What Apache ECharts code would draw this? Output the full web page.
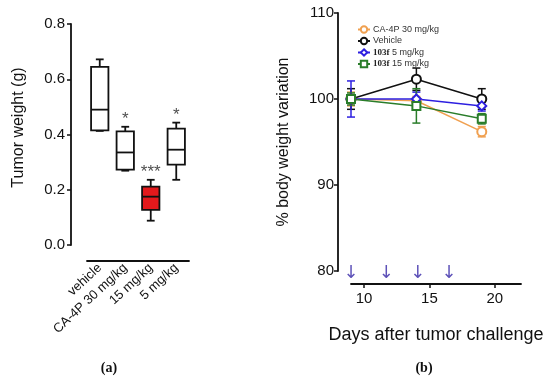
<!DOCTYPE html>
<html><head><meta charset="utf-8">
<script src="https://cdn.jsdelivr.net/npm/echarts@6/dist/echarts.min.js"></script>
<style>html,body{margin:0;padding:0;background:#fff}#c{width:550px;height:378px}</style>
</head><body><div id="c"></div>
<script>
// ---- Panel (a): tumor weight box plots ----
var groups = ['vehicle', 'CA-4P 30 mg/kg', '15 mg/kg', '5 mg/kg'];
// [min, Q1, median, Q3, max]
var boxVehicle = [0.413, 0.415, 0.49, 0.645, 0.672];
var boxCA4P = [0.269, 0.273, 0.335, 0.411, 0.428];
var box15 = [0.088, 0.127, 0.175, 0.211, 0.236];
var box5 = [0.236, 0.291, 0.345, 0.421, 0.443];
var significance = ['', '*', '***', '*'];
var weightTicks = [0, 0.2, 0.4, 0.6, 0.8];

// ---- Panel (b): body weight variation ----
var days = [9, 14, 19];
var ca4pMean = [100, 99.8, 96.2];
var ca4pErr = [0.8, 0.5, 0.6];
var vehicleMean = [100, 102.3, 100];
var vehicleErr = [1.2, 1.3, 1.2];
var f5Mean = [100, 100, 99.2];
var f5Err = [2.1, 0.8, 0.6];
var f15Mean = [100, 99.2, 97.7];
var f15Err = [0.7, 2.0, 0.6];
var treatmentDays = [9, 11.7, 14.1, 16.5];
var dayTicks = [10, 15, 20];

var boxes = [boxVehicle, boxCA4P, box15, box5];
var boxFill = ['#ffffff', '#ffffff', '#e3191c', '#ffffff'];

var chart = echarts.init(document.getElementById('c'), null, {renderer: 'canvas'});

function boxRender(params, api) {
  var i = api.value(0);
  var b = boxes[i];
  var bw = api.size([1, 0])[0] * 0.68;
  var cw = bw * 0.45;
  var x = api.coord([i, 0])[0];
  var p = b.map(function (v) { return api.coord([i, v])[1]; });
  var st = {stroke: '#111', lineWidth: 1.8, fill: null};
  return {
    type: 'group',
    children: [
      {type: 'line', shape: {x1: x, y1: p[0], x2: x, y2: p[1]}, style: st},
      {type: 'line', shape: {x1: x, y1: p[3], x2: x, y2: p[4]}, style: st},
      {type: 'line', shape: {x1: x - cw / 2, y1: p[0], x2: x + cw / 2, y2: p[0]}, style: st},
      {type: 'line', shape: {x1: x - cw / 2, y1: p[4], x2: x + cw / 2, y2: p[4]}, style: st},
      {type: 'rect', shape: {x: x - bw / 2, y: p[3], width: bw, height: p[1] - p[3]},
        style: {stroke: '#111', lineWidth: 1.8, fill: boxFill[i]}},
      {type: 'line', shape: {x1: x - bw / 2, y1: p[2], x2: x + bw / 2, y2: p[2]}, style: st}
    ]
  };
}

function errRender(meanArr, errArr, color) {
  return function (params, api) {
    var i = params.dataIndex;
    var x = api.coord([days[i], meanArr[i]])[0];
    var yt = api.coord([days[i], meanArr[i] + errArr[i]])[1];
    var yb = api.coord([days[i], meanArr[i] - errArr[i]])[1];
    var st = {stroke: color, lineWidth: 1.5};
    var c = 4;
    return {type: 'group', children: [
      {type: 'line', shape: {x1: x, y1: yt, x2: x, y2: yb}, style: st},
      {type: 'line', shape: {x1: x - c, y1: yt, x2: x + c, y2: yt}, style: st},
      {type: 'line', shape: {x1: x - c, y1: yb, x2: x + c, y2: yb}, style: st}
    ]};
  };
}

var cols = {ca: '#f0a050', veh: '#111111', f5: '#2d1fe0', f15: '#2a7d2a'};
var seriesDefs = [
  {name: 'CA-4P 30 mg/kg', mean: ca4pMean, err: ca4pErr, color: cols.ca, symbol: 'emptyCircle'},
  {name: 'Vehicle', mean: vehicleMean, err: vehicleErr, color: cols.veh, symbol: 'emptyCircle'},
  {name: '103f 5 mg/kg', mean: f5Mean, err: f5Err, color: cols.f5, symbol: 'emptyDiamond'},
  {name: '103f 15 mg/kg', mean: f15Mean, err: f15Err, color: cols.f15, symbol: 'emptyRect'}
];

var series = [
  {type: 'custom', xAxisIndex: 0, yAxisIndex: 0, renderItem: boxRender,
    data: groups.map(function (g, i) { return [i, boxes[i][4]]; }), z: 5},
  {type: 'scatter', xAxisIndex: 0, yAxisIndex: 0, symbolSize: 0, silent: true,
    data: groups.map(function (g, i) { return [i, boxes[i][4]]; }),
    label: {show: true, position: 'top', distance: -1, fontSize: 17, color: '#222',
      fontFamily: 'Liberation Sans',
      formatter: function (p) { return significance[p.dataIndex]; }}}
];
seriesDefs.forEach(function (d) {
  series.push({type: 'custom', xAxisIndex: 1, yAxisIndex: 1, renderItem: errRender(d.mean, d.err, d.color),
    data: days.map(function (x, i) { return [x, d.mean[i]]; }), silent: true, z: 3});
});
seriesDefs.forEach(function (d) {
  series.push({type: 'line', name: d.name, xAxisIndex: 1, yAxisIndex: 1,
    data: days.map(function (x, i) { return [x, d.mean[i]]; }),
    symbol: d.symbol, symbolSize: d.symbol === 'emptyRect' ? 8 : 9, showAllSymbol: true,
    lineStyle: {color: d.color, width: 1.5}, itemStyle: {color: d.color, borderWidth: 1.8},
    z: 4});
});
series.push({type: 'scatter', xAxisIndex: 1, yAxisIndex: 1, symbolSize: 0, silent: true, clip: false,
  data: treatmentDays.map(function (d) { return [d, 80]; }),
  label: {show: true, position: 'inside', formatter: '↓', fontSize: 18, color: '#3526a6',
    fontFamily: 'DejaVu Sans', offset: [0, 2]}});

var legendRich = {b: {fontWeight: 'bold', fontSize: 9, fontFamily: 'Liberation Serif', color: '#222'}};

chart.setOption({
  animation: false,
  backgroundColor: '#fff',
  textStyle: {fontFamily: 'Liberation Sans'},
  title: [
    {text: '({b|a})', left: 104, top: 356, textAlign: 'center',
      textStyle: {fontFamily: 'Liberation Serif', fontSize: 14, color: '#111',
        rich: {b: {fontWeight: 'bold', fontFamily: 'Liberation Serif', fontSize: 14, color: '#111'}}}},
    {text: '({b|b})', left: 419, top: 356, textAlign: 'center',
      textStyle: {fontFamily: 'Liberation Serif', fontSize: 14, color: '#111',
        rich: {b: {fontWeight: 'bold', fontFamily: 'Liberation Serif', fontSize: 14, color: '#111'}}}}
  ],
  legend: {
    orient: 'vertical', left: 352, top: 20, itemGap: 2.5, itemWidth: 12, itemHeight: 8,
    data: seriesDefs.map(function (d) { return d.name; }),
    textStyle: {fontSize: 9, color: '#333', fontFamily: 'Liberation Sans', rich: legendRich, padding: [0,0,0,-2]},
    formatter: function (n) { return n.indexOf('103f') === 0 ? '{b|103f}' + n.slice(4) : n; }
  },
  grid: [
    {left: 87, top: 24, width: 102, height: 221},
    {left: 351, top: 13, width: 170, height: 258}
  ],
  xAxis: [
    {type: 'category', gridIndex: 0, data: groups, offset: 16,
      axisLine: {onZero: false, lineStyle: {color: '#111', width: 1.8}},
      axisTick: {alignWithLabel: true, length: 4, lineStyle: {color: '#111', width: 1.5}},
      axisLabel: {rotate: 43, fontSize: 13, color: '#111', margin: 5, interval: 0}},
    {type: 'value', gridIndex: 1, min: 9, max: 22, offset: 13, splitLine: {show: false},
      axisLine: {onZero: false, lineStyle: {color: '#111', width: 1.8}},
      axisTick: {length: 4, customValues: dayTicks, lineStyle: {color: '#111', width: 1.5}},
      axisLabel: {customValues: dayTicks, fontSize: 15, color: '#111', margin: 7},
      name: 'Days after tumor challenge', nameLocation: 'middle', nameGap: 42,
      nameTextStyle: {fontSize: 18, color: '#111'}}
  ],
  yAxis: [
    {type: 'value', gridIndex: 0, min: 0, max: 0.8, interval: 0.2, offset: 16,
      splitLine: {show: false},
      axisLine: {show: true, onZero: false, lineStyle: {color: '#111', width: 1.8}},
      axisTick: {show: true, length: 4, lineStyle: {color: '#111', width: 1.5}},
      axisLabel: {fontSize: 15, color: '#111', margin: 6,
        formatter: function (v) { return v.toFixed(1); }},
      name: 'Tumor weight (g)', nameLocation: 'middle', nameGap: 44,
      nameTextStyle: {fontSize: 16, color: '#111', padding: [0, 0, 0, 14]}},
    {type: 'value', gridIndex: 1, min: 80, max: 110, interval: 10, offset: 13,
      splitLine: {show: false},
      axisLine: {show: true, onZero: false, lineStyle: {color: '#111', width: 1.8}},
      axisTick: {show: true, length: 4, lineStyle: {color: '#111', width: 1.5}},
      axisLabel: {fontSize: 15, color: '#111', margin: 4},
      name: '% body weight variation', nameLocation: 'middle', nameGap: 46,
      nameTextStyle: {fontSize: 16, color: '#111'}}
  ],
  series: series
});
</script></body></html>
